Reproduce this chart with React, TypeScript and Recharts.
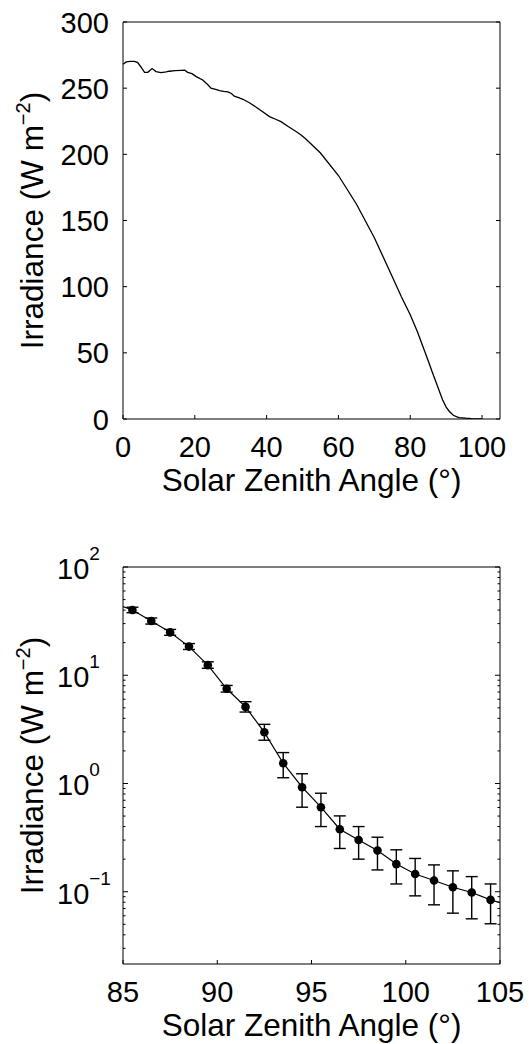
import React from "react";
import { LineChart, Line, XAxis, YAxis, ErrorBar } from "recharts";

const FONT = "'Liberation Sans', Arial, Helvetica, sans-serif";
const INK = "#000";

// top panel: irradiance against solar zenith angle
const angle = [
  0, 0.9, 2, 3.2, 4.1, 5, 6, 6.9, 8.1, 9.2, 10.6, 12, 12.9, 14.5, 16.2, 17.2,
  18, 19.2, 20.4, 22.2, 23.5, 24.5, 25.8, 26.9, 28, 29.2, 30.2, 31, 32.2, 33.4,
  35.2, 37.1, 39, 40.8, 42.5, 44, 46, 48.2, 49.7, 51, 55, 60, 65, 70, 75, 77.5,
  80, 82, 83.5, 85, 86.2, 87.5, 89, 90, 90.9, 92, 93, 93.7, 94.5, 95.5, 97, 100,
];
const irradiance = [
  268, 269.8, 270.2, 270.3, 269.3, 266, 262, 262, 264.8, 262.5, 261.7, 262.3,
  262.8, 263.2, 263.5, 263.6, 262, 261, 258.7, 256.2, 253, 250, 249, 248.2,
  247.6, 247.2, 246, 243.9, 242.8, 241.6, 239, 235.6, 232, 228.5, 226.5, 224.7,
  221, 217.2, 214.5, 211.4, 201, 184, 162.5, 137, 107.5, 92.5, 78.8, 66, 55,
  44, 35, 25.5, 14.6, 9, 5.7, 2.8, 1.6, 1.1, 0.9, 0.6, 0.3, 0.15,
];
const angleTicks = [0, 20, 40, 60, 80, 100];
const irrTicks = [0, 50, 100, 150, 200, 250, 300];

// bottom panel: log scale, measured points with error bars
const fitAngle = [
  85, 85.5, 86.5, 87.5, 88.5, 89.5, 90.5, 91.5, 92.5, 93.5, 94.5, 95.5, 96.5,
  97.5, 98.5, 99.5, 100.5, 101.5, 102.5, 103.5, 104.5, 105,
];
const fitIrr = [
  43, 40.1, 31.7, 24.9, 18.4, 12.4, 7.5, 5.1, 2.97, 1.54, 0.924, 0.604, 0.378,
  0.301, 0.24, 0.18, 0.146, 0.127, 0.11, 0.0984, 0.0841, 0.0794,
];
const obsAngle = [
  85.5, 86.5, 87.5, 88.5, 89.5, 90.5, 91.5, 92.5, 93.5, 94.5, 95.5, 96.5, 97.5,
  98.5, 99.5, 100.5, 101.5, 102.5, 103.5, 104.5,
];
const obsIrr = [
  40.1, 31.7, 24.9, 18.4, 12.4, 7.5, 5.1, 2.97, 1.54, 0.924, 0.604, 0.378,
  0.301, 0.24, 0.18, 0.146, 0.127, 0.11, 0.0984, 0.0841,
];
const obsHigh = [
  42.5, 33.8, 26.5, 19.6, 13.3, 8.05, 5.7, 3.52, 1.93, 1.23, 0.813, 0.502, 0.4,
  0.319, 0.244, 0.203, 0.177, 0.156, 0.138, 0.118,
];
const obsLow = [
  37.8, 29.7, 23.4, 17.3, 11.6, 6.99, 4.57, 2.51, 1.13, 0.604, 0.4, 0.251, 0.2,
  0.159, 0.118, 0.0916, 0.0757, 0.0634, 0.0562, 0.0506,
];
const logAngleTicks = [85, 90, 95, 100, 105];
const decadeTicks = [0.1, 1, 10, 100];
const minorTicks = [
  0.03, 0.04, 0.05, 0.06, 0.07, 0.08, 0.09, 0.2, 0.3, 0.4, 0.5, 0.6, 0.7, 0.8,
  0.9, 2, 3, 4, 5, 6, 7, 8, 9, 20, 30, 40, 50, 60, 70, 80, 90,
];
const logTicks = [...decadeTicks, ...minorTicks].sort((a, b) => a - b);

const topData = angle.map((x, i) => ({ x, y: irradiance[i] }));
const fitData = fitAngle.map((x, i) => ({ x, y: fitIrr[i] }));
const obsData = obsAngle.map((x, i) => ({
  x,
  y: obsIrr[i],
  err: [obsIrr[i] - obsLow[i], obsHigh[i] - obsIrr[i]],
}));

// ticks point inward, like the matlab box
const bottomTick = (len: number) => (p: any) => (
  <g>
    <line x1={p.x} y1={p.y} x2={p.x} y2={p.y - len} stroke={INK} />
    <text x={p.x} y={p.y + 38} textAnchor="middle" fontSize={29} fontFamily={FONT} fill={INK}>
      {p.payload.value}
    </text>
  </g>
);
const topTick = (len: number) => (p: any) => (
  <line x1={p.x} y1={p.y} x2={p.x} y2={p.y + len} stroke={INK} />
);
const leftLinTick = (p: any) => (
  <g>
    <line x1={p.x} y1={p.y} x2={p.x + 4} y2={p.y} stroke={INK} />
    <text x={p.x - 14} y={p.y + 10.5} textAnchor="end" fontSize={29} fontFamily={FONT} fill={INK}>
      {p.payload.value}
    </text>
  </g>
);
const rightLinTick = (p: any) => (
  <line x1={p.x} y1={p.y} x2={p.x - 4} y2={p.y} stroke={INK} />
);
const isDecade = (v: number) => decadeTicks.includes(v);
const expLabel = (v: number) => {
  const e = Math.round(Math.log10(v));
  return e < 0 ? "\u2212" + -e : String(e);
};
const leftLogTick = (p: any) => {
  const v = p.payload.value;
  const major = isDecade(v);
  return (
    <g>
      <line x1={p.x} y1={p.y} x2={p.x + (major ? 5 : 2.5)} y2={p.y} stroke={INK} />
      {major && (
        <text x={p.x - 66} y={p.y + 12} fontSize={29} fontFamily={FONT} fill={INK}>
          10
          <tspan dy={-19} fontSize={19}>
            {expLabel(v)}
          </tspan>
        </text>
      )}
    </g>
  );
};
const rightLogTick = (p: any) => {
  const major = isDecade(p.payload.value);
  return <line x1={p.x} y1={p.y} x2={p.x - (major ? 5 : 2.5)} y2={p.y} stroke={INK} />;
};

const yLabel = (props: any) => {
  const vb = props.viewBox || { y: 0, height: 0 };
  const cx = 43;
  const cy = vb.y + vb.height / 2;
  return (
    <text
      x={cx}
      y={cy}
      transform={`rotate(-90 ${cx} ${cy})`}
      textAnchor="middle"
      fontSize={31.5}
      fontFamily={FONT}
      fill={INK}
    >
      Irradiance (W m
      <tspan dy={-13} fontSize={20}>
        {"\u22122"}
      </tspan>
      <tspan dy={13}>)</tspan>
    </text>
  );
};
const xLabel = (props: any) => {
  const vb = props.viewBox || { x: 0, y: 0, width: 0 };
  return (
    <text
      x={vb.x + vb.width / 2}
      y={vb.y + 72}
      textAnchor="middle"
      fontSize={31.5}
      fontFamily={FONT}
      fill={INK}
    >
      Solar Zenith Angle (°)
    </text>
  );
};

const axisLine = { stroke: INK, strokeWidth: 1 };

function TopPanel() {
  return (
    <LineChart width={529} height={530} margin={{ top: 21, right: 28, bottom: 0, left: 0 }}>
      <XAxis
        xAxisId="b"
        dataKey="x"
        type="number"
        domain={[0, 105]}
        allowDataOverflow
        ticks={angleTicks}
        interval={0}
        height={111}
        axisLine={axisLine}
        tickLine={false}
        tickSize={0}
        tickMargin={0}
        tick={bottomTick(4)}
        label={xLabel}
      />
      <XAxis
        xAxisId="t"
        orientation="top"
        type="number"
        domain={[0, 105]}
        allowDataOverflow
        ticks={angleTicks}
        interval={0}
        height={1}
        axisLine={axisLine}
        tickLine={false}
        tickSize={0}
        tickMargin={0}
        tick={topTick(4)}
      />
      <YAxis
        yAxisId="l"
        type="number"
        domain={[0, 300]}
        allowDataOverflow
        ticks={irrTicks}
        interval={0}
        width={123}
        axisLine={axisLine}
        tickLine={false}
        tickSize={0}
        tickMargin={0}
        tick={leftLinTick}
        label={yLabel}
      />
      <YAxis
        yAxisId="r"
        orientation="right"
        type="number"
        domain={[0, 300]}
        allowDataOverflow
        ticks={irrTicks}
        interval={0}
        width={1}
        axisLine={axisLine}
        tickLine={false}
        tickSize={0}
        tickMargin={0}
        tick={rightLinTick}
      />
      <Line
        xAxisId="b"
        yAxisId="l"
        data={topData}
        dataKey="y"
        type="linear"
        stroke={INK}
        strokeWidth={1.3}
        dot={false}
        isAnimationActive={false}
      />
    </LineChart>
  );
}

function BottomPanel() {
  return (
    <LineChart width={529} height={504} margin={{ top: 26, right: 28, bottom: 0, left: 0 }}>
      <XAxis
        xAxisId="b"
        dataKey="x"
        type="number"
        domain={[85, 105]}
        allowDataOverflow
        ticks={logAngleTicks}
        interval={0}
        height={80}
        axisLine={axisLine}
        tickLine={false}
        tickSize={0}
        tickMargin={0}
        tick={bottomTick(4)}
        label={xLabel}
      />
      <XAxis
        xAxisId="t"
        orientation="top"
        type="number"
        domain={[85, 105]}
        allowDataOverflow
        ticks={logAngleTicks}
        interval={0}
        height={1}
        axisLine={axisLine}
        tickLine={false}
        tickSize={0}
        tickMargin={0}
        tick={topTick(4)}
      />
      <YAxis
        yAxisId="l"
        type="number"
        scale="log"
        domain={[0.0215, 100]}
        allowDataOverflow
        ticks={logTicks}
        interval={0}
        width={123}
        axisLine={axisLine}
        tickLine={false}
        tickSize={0}
        tickMargin={0}
        tick={leftLogTick}
        label={yLabel}
      />
      <YAxis
        yAxisId="r"
        orientation="right"
        type="number"
        scale="log"
        domain={[0.0215, 100]}
        allowDataOverflow
        ticks={logTicks}
        interval={0}
        width={1}
        axisLine={axisLine}
        tickLine={false}
        tickSize={0}
        tickMargin={0}
        tick={rightLogTick}
      />
      <Line
        xAxisId="b"
        yAxisId="l"
        data={fitData}
        dataKey="y"
        type="linear"
        stroke={INK}
        strokeWidth={1.2}
        dot={false}
        isAnimationActive={false}
      />
      <Line
        xAxisId="b"
        yAxisId="l"
        data={obsData}
        dataKey="y"
        type="linear"
        stroke="none"
        dot={{ r: 4.3, fill: INK, stroke: INK, strokeWidth: 0 }}
        activeDot={false}
        isAnimationActive={false}
      >
        <ErrorBar dataKey="err" direction="y" width={6} stroke={INK} strokeWidth={1.4} />
      </Line>
    </LineChart>
  );
}

export default function App() {
  return (
    <div style={{ position: "absolute", left: 0, top: 0, width: 529, height: 1044, background: "#fff" }}>
      <div style={{ position: "absolute", left: 0, top: 0 }}>
        <TopPanel />
      </div>
      <div style={{ position: "absolute", left: 0, top: 540 }}>
        <BottomPanel />
      </div>
    </div>
  );
}
